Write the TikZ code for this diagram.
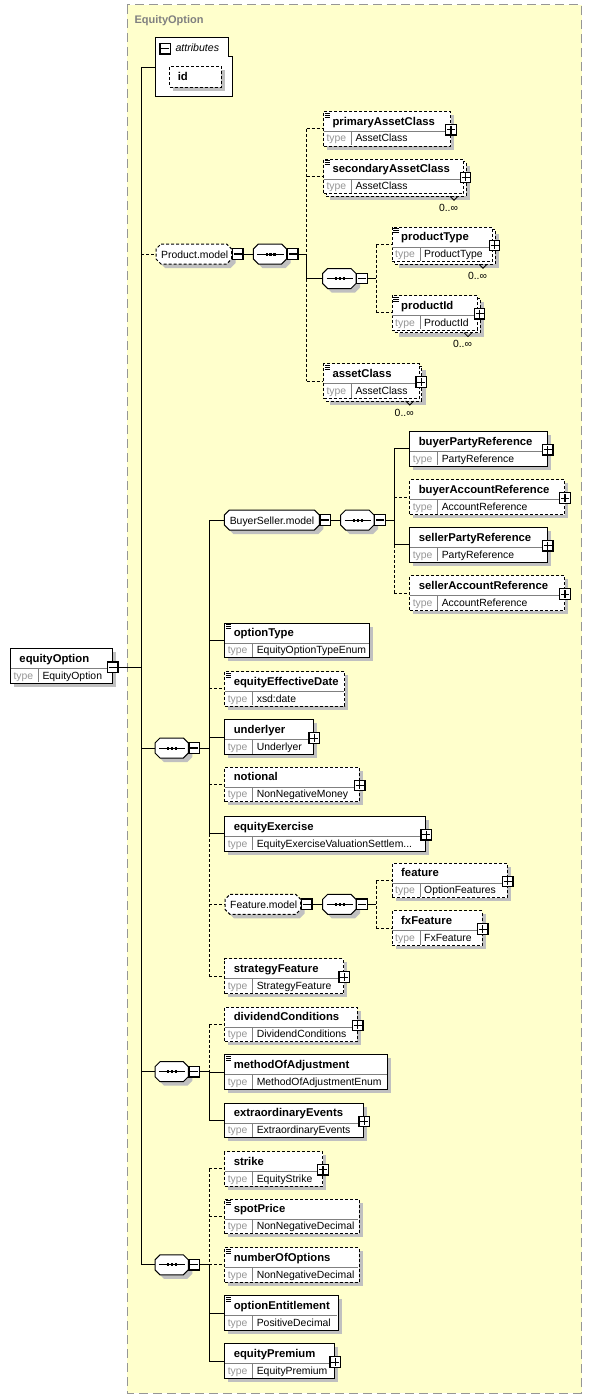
\documentclass[tikz,border=0pt]{standalone}
\usepackage{fontspec}
\setmainfont{Liberation Sans}
\usetikzlibrary{calc}
\definecolor{bgy}{RGB}{255,255,204}
\definecolor{shd}{RGB}{192,192,192}
\definecolor{tgray}{RGB}{150,150,150}
\definecolor{dgray}{RGB}{128,128,128}
\definecolor{bordgray}{RGB}{150,150,150}
\tikzset{
 dsh/.style={dash pattern=on 3pt off 2pt},
 elbox/.style={draw,fill=white,inner sep=0pt,minimum height=34.6pt,line width=1pt},
 nm/.style={inner sep=0pt,anchor=base west,font=\fontsize{11.3}{13}\selectfont\bfseries},
 tl/.style={inner sep=0pt,anchor=base west,font=\fontsize{10.4}{12}\selectfont,text=tgray},
 tn/.style={inner sep=0pt,anchor=base west,font=\fontsize{10.4}{12}\selectfont},
 divl/.style={draw=dgray,line width=1pt},
 pmbox/.style={draw,fill=white,inner sep=0pt,minimum size=10.5pt,line width=1.2pt},
 plusb/.style={pmbox,path picture={
   \draw[line width=1.1pt] ($(path picture bounding box.center)+(-4,0)$) -- ++(8,0);
   \draw[line width=1.1pt] ($(path picture bounding box.center)+(0,-4)$) -- ++(0,8);}},
 minusb/.style={pmbox,path picture={
   \draw[line width=1.1pt] ($(path picture bounding box.center)+(-4,0)$) -- ++(8,0);}},
}
% element core: id x y w style name type
\newcommand\elemcore[7]{%
 \node[elbox,#5,minimum width=#4pt,anchor=north west] (#1) at (#2,#3) {};
 \draw[divl] (#2+0.5,#3+20.5) -- (#2+#4-0.5,#3+20.5);
 \draw[divl] (#2+28.4,#3+20.5) -- (#2+28.4,#3+34.1);
 \node[nm] (#1-n) at (#2+9,#3+14.2) {#6};
 \node[tl] (#1-tl) at (#2+3,#3+31) {type};
 \node[tn] (#1-t) at (#2+32,#3+31) {#7};
}
\newcommand\elem[7]{%
 \fill[shd] (#2+4,#3+4) rectangle (#2+#4+4,#3+38.6);
 \elemcore{#1}{#2}{#3}{#4}{#5}{#6}{#7}}
\newcommand\elemstack[7]{%
 \fill[shd] (#2+7,#3+7) rectangle (#2+#4+7,#3+41.6);
 \draw[#5,fill=white,line width=1pt] (#2+3,#3+3) rectangle (#2+#4+3,#3+37.6);
 \draw[line width=0.8pt] (#2+#4-13,#3+37.6) -- ++(4,4) -- ++(4,-4);
 \node[tn,anchor=base east] (#1-mu) at (#2+#4-4.5,#3+52.6) {0..∞};
 \elemcore{#1}{#2}{#3}{#4}{#5}{#6}{#7}}
\newcommand\plusat[2]{\node[plusb] (#1-p) at ($(#1.north east)+(#2,18.7)$) {};}
\newcommand\eqicon[1]{%
 \draw[line width=0.8pt] ($(#1.north west)+(1.6,2)$) -- ++(5.4,0);
 \draw[line width=0.8pt] ($(#1.north west)+(1.6,4)$) -- ++(5.4,0);
 \draw[line width=0.8pt] ($(#1.north west)+(1.6,6)$) -- ++(5.4,0);}
% octagon: id xl yc w style
\newcommand\octa[5]{%
 \fill[shd] (#2+9,#3-6) -- (#2+#4-1,#3-6) -- (#2+#4+4,#3-1) -- (#2+#4+4,#3+9) -- (#2+#4-1,#3+14) -- (#2+9,#3+14) -- (#2+4,#3+9) -- (#2+4,#3-1) -- cycle;
 \draw[#5,fill=white,line width=1pt] (#2+5,#3-10) -- (#2+#4-5,#3-10) -- (#2+#4,#3-5) -- (#2+#4,#3+5) -- (#2+#4-5,#3+10) -- (#2+5,#3+10) -- (#2,#3+5) -- (#2,#3-5) -- cycle;
 \node[inner sep=0pt,minimum width=#4pt,minimum height=20pt,anchor=west] (#1) at (#2,#3) {};
 \node[minusb] (#1-m) at (#2+#4+6,#3) {};}
\newcommand\seqsym[1]{%
 \draw[line width=1pt] ($(#1.west)+(4,0)$) -- ($(#1.east)+(-4,0)$);
 \fill ($(#1.center)+(-5,-1.5)$) rectangle ++(2.2,3);
 \fill ($(#1.center)+(-1.1,-1.5)$) rectangle ++(2.2,3);
 \fill ($(#1.center)+(2.8,-1.5)$) rectangle ++(2.2,3);}
\begin{document}
\begin{tikzpicture}[x=1pt,y=-1pt,line width=1pt]
\useasboundingbox (0,0) rectangle (592,1399);
\fill[white] (0,0) rectangle (592,1399);
% complex type region
\draw[draw=bordgray,fill=bgy,dash pattern=on 9pt off 5pt] (127.3,5) rectangle (581.5,1393);
\node[nm,text=dgray,font=\fontsize{11}{12}\selectfont\bfseries] (title) at (134,23.3) {EquityOption};
% attributes
\draw[fill=white] (155,38) -- (228,38) -- (228,57) -- (232.7,57) -- (232.7,97) -- (155,97) -- cycle;
\node[inner sep=0pt,minimum width=77.7pt,minimum height=59pt,anchor=north west] (attr) at (155,38) {};
\node[minusb] (attr-m) at (165.3,48.8) {};
\node[tn,font=\fontsize{10.6}{12}\selectfont\itshape] (attr-l) at (175,52) {attributes};
\fill[shd] (173,70) rectangle (224.7,90.7);
\node[draw,dsh,fill=white,inner sep=0pt,anchor=north west,minimum width=51.7pt,minimum height=20.7pt] (idb) at (169,66) {};
\node[nm] (idb-n) at (177.3,80.5) {id};
% root element
\elem{eo}{10}{648}{101.7}{solid}{equityOption}{EquityOption}
\node[minusb] (eo-m) at ($(eo.north east)+(0,19.2)$) {};
% product model
\octa{pm}{156}{254}{75.7}{dsh}
\node[tn] (pm-l) at (160.7,258.3) {Product.model};
\octa{pseq}{253.3}{254}{33.4}{solid}\seqsym{pseq}
\octa{iseq}{322.7}{278.5}{33.3}{solid}\seqsym{iseq}
\elem{pac}{323}{111}{127}{dsh}{primaryAssetClass}{AssetClass}\eqicon{pac}\plusat{pac}{0}
\elemstack{sac}{323}{158.7}{140}{dsh}{secondaryAssetClass}{AssetClass}\eqicon{sac}\plusat{sac}{1.5}
\elemstack{pt}{391.7}{226.7}{100.3}{dsh}{productType}{ProductType}\eqicon{pt}\plusat{pt}{1.5}
\elemstack{pid}{391.7}{295}{85.3}{dsh}{productId}{ProductId}\eqicon{pid}\plusat{pid}{1.5}
\elemstack{ac}{323}{363.4}{95.7}{dsh}{assetClass}{AssetClass}\eqicon{ac}\plusat{ac}{1.5}
% main sequences
\octa{s1}{155}{748}{33.3}{solid}\seqsym{s1}
\octa{s2}{155}{1071.7}{33.3}{solid}\seqsym{s2}
\octa{s3}{155}{1264.8}{33.3}{solid}\seqsym{s3}
% buyer seller
\octa{bsm}{224.3}{520}{95}{solid}
\node[tn] (bsm-l) at (229.3,524.3) {BuyerSeller.model};
\octa{bseq}{340.7}{520}{33.3}{solid}\seqsym{bseq}
\elem{bpr}{409.3}{431}{137.4}{solid}{buyerPartyReference}{PartyReference}\plusat{bpr}{0}
\elem{bar}{409.3}{479.4}{154.7}{dsh}{buyerAccountReference}{AccountReference}\plusat{bar}{0}
\elem{spr}{409.3}{527}{137.4}{solid}{sellerPartyReference}{PartyReference}\plusat{spr}{0}
\elem{sar}{409.3}{575.4}{154.7}{dsh}{sellerAccountReference}{AccountReference}\plusat{sar}{0}
% seq1 children
\elem{ot}{224.3}{622.7}{145}{solid}{optionType}{EquityOptionTypeEnum}\eqicon{ot}
\elem{eed}{224.3}{671}{120}{dsh}{equityEffectiveDate}{xsd:date}\eqicon{eed}
\elem{und}{224.3}{719.4}{89}{solid}{underlyer}{Underlyer}\plusat{und}{0}
\elem{notl}{224.3}{766.7}{134.4}{dsh}{notional}{NonNegativeMoney}\plusat{notl}{0}
\elem{ee}{224.3}{816}{201}{solid}{equityExercise}{EquityExerciseValuationSettlem...}\plusat{ee}{0}
\octa{fm}{225}{904.3}{75.7}{dsh}
\node[tn] (fm-l) at (229.7,908.6) {Feature.model};
\octa{fseq}{322.7}{904.3}{33.3}{solid}\seqsym{fseq}
\elem{feat}{391.7}{862.7}{115}{dsh}{feature}{OptionFeatures}\plusat{feat}{0}
\elem{fxf}{391.7}{910.4}{90}{dsh}{fxFeature}{FxFeature}\plusat{fxf}{0}
\elem{sf}{224.3}{958.4}{119}{dsh}{strategyFeature}{StrategyFeature}\plusat{sf}{0}
% seq2 children
\elem{dc}{224.3}{1006.7}{132.4}{dsh}{dividendConditions}{DividendConditions}\plusat{dc}{0}
\elem{moa}{224.3}{1054.4}{163}{solid}{methodOfAdjustment}{MethodOfAdjustmentEnum}\eqicon{moa}
\elem{xe}{224.3}{1102.7}{139}{solid}{extraordinaryEvents}{ExtraordinaryEvents}\plusat{xe}{0}
% seq3 children
\elem{stk}{224.3}{1151}{97.7}{dsh}{strike}{EquityStrike}\plusat{stk}{0}
\elem{sp}{224.3}{1198.7}{134.4}{dsh}{spotPrice}{NonNegativeDecimal}\eqicon{sp}
\elem{noo}{224.3}{1247}{134.4}{dsh}{numberOfOptions}{NonNegativeDecimal}\eqicon{noo}
\elem{oe}{224.3}{1295.4}{113.4}{solid}{optionEntitlement}{PositiveDecimal}\eqicon{oe}
\elem{ep}{224.3}{1343.4}{110}{solid}{equityPremium}{EquityPremium}\plusat{ep}{0}
% trunks
\coordinate (T0) at (141,0);
\coordinate (Tp) at (306.7,0);
\coordinate (Ti) at (376,0);
\coordinate (Tb) at (394,0);
\coordinate (Tm) at (209.3,0);
\coordinate (Tf) at (376,0);
% main trunk
\draw (T0 |- attr.west) -- (T0 |- s3.west);
\draw (T0 |- attr.west) -- (attr.west);
\draw (eo-m.east) -- (T0 |- eo-m.east);
\draw[dsh] (T0 |- pm.west) -- (pm.west);
\draw (T0 |- s1.west) -- (s1.west);
\draw (T0 |- s2.west) -- (s2.west);
\draw (T0 |- s3.west) -- (s3.west);
% product model
\draw (pm-m.east) -- (pseq.west);
\draw (pseq-m.east) -- (Tp |- pseq-m.east);
\draw[dsh] (Tp |- pac.west) -- (Tp |- pseq.west);
\draw (Tp |- pseq.west) -- (Tp |- iseq.west);
\draw[dsh] (Tp |- iseq.west) -- (Tp |- ac.west);
\draw[dsh] (Tp |- pac.west) -- (pac.west);
\draw[dsh] (Tp |- sac.west) -- (sac.west);
\draw[dsh] (Tp |- ac.west) -- (ac.west);
\draw (Tp |- iseq.west) -- (iseq.west);
\draw (iseq-m.east) -- (Ti |- iseq-m.east);
\draw[dsh] (Ti |- pt.west) -- (Ti |- pid.west);
\draw[dsh] (Ti |- pt.west) -- (pt.west);
\draw[dsh] (Ti |- pid.west) -- (pid.west);
% seq1
\draw (s1-m.east) -- (Tm |- s1-m.east);
\draw (Tm |- bsm.west) -- (Tm |- ee.west);
\draw[dsh] (Tm |- ee.west) -- (Tm |- sf.west);
\draw (Tm |- bsm.west) -- (bsm.west);
\draw (Tm |- ot.west) -- (ot.west);
\draw[dsh] (Tm |- eed.west) -- (eed.west);
\draw (Tm |- und.west) -- (und.west);
\draw[dsh] (Tm |- notl.west) -- (notl.west);
\draw (Tm |- ee.west) -- (ee.west);
\draw[dsh] (Tm |- fm.west) -- (fm.west);
\draw[dsh] (Tm |- sf.west) -- (sf.west);
% buyer seller
\draw (bsm-m.east) -- (bseq.west);
\draw (bseq-m.east) -- (Tb |- bseq-m.east);
\draw (Tb |- bpr.west) -- (Tb |- spr.west);
\draw[dsh] (Tb |- spr.west) -- (Tb |- sar.west);
\draw (Tb |- bpr.west) -- (bpr.west);
\draw[dsh] (Tb |- bar.west) -- (bar.west);
\draw (Tb |- spr.west) -- (spr.west);
\draw[dsh] (Tb |- sar.west) -- (sar.west);
% feature
\draw (fm-m.east) -- (fseq.west);
\draw (fseq-m.east) -- (Tf |- fseq-m.east);
\draw[dsh] (Tf |- feat.west) -- (Tf |- fxf.west);
\draw[dsh] (Tf |- feat.west) -- (feat.west);
\draw[dsh] (Tf |- fxf.west) -- (fxf.west);
% seq2
\draw (s2-m.east) -- (Tm |- s2-m.east);
\draw[dsh] (Tm |- dc.west) -- (Tm |- s2.west);
\draw (Tm |- s2.west) -- (Tm |- xe.west);
\draw[dsh] (Tm |- dc.west) -- (dc.west);
\draw (Tm |- moa.west) -- (moa.west);
\draw (Tm |- xe.west) -- (xe.west);
% seq3
\draw (s3-m.east) -- (Tm |- s3-m.east);
\draw[dsh] (Tm |- stk.west) -- (Tm |- s3.west);
\draw (Tm |- s3.west) -- (Tm |- ep.west);
\draw[dsh] (Tm |- stk.west) -- (stk.west);
\draw[dsh] (Tm |- sp.west) -- (sp.west);
\draw[dsh] (Tm |- noo.west) -- (noo.west);
\draw (Tm |- oe.west) -- (oe.west);
\draw (Tm |- ep.west) -- (ep.west);
\end{tikzpicture}
\end{document}
